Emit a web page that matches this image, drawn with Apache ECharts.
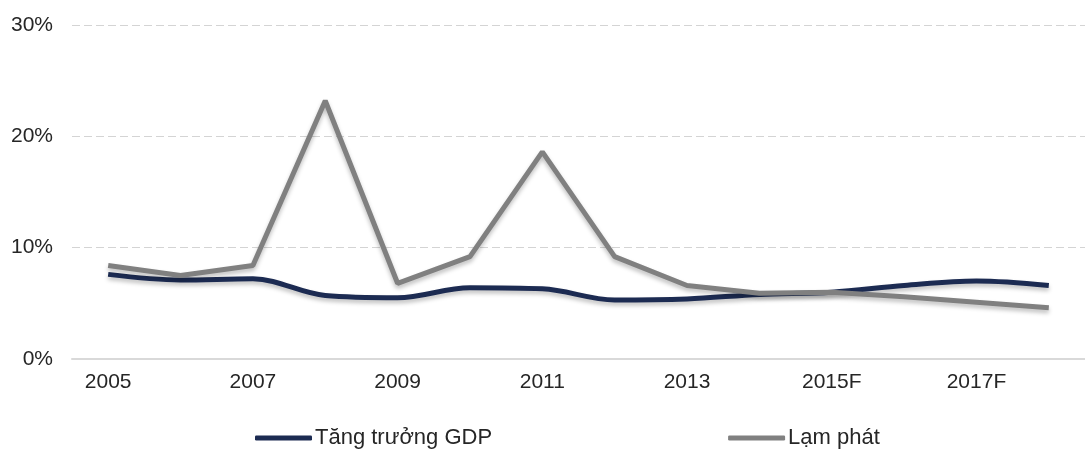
<!DOCTYPE html>
<html>
<head>
<meta charset="utf-8">
<script src="https://cdn.jsdelivr.net/npm/echarts@6/dist/echarts.min.js"></script>
<style>
  html, body { margin: 0; padding: 0; background: #fff; }
  #chart { width: 1085px; height: 450px; }
</style>
</head>
<body>
<div id="chart"></div>
<script>
var years = ['2005', '2006', '2007', '2008', '2009', '2010', '2011', '2012', '2013', '2014', '2015F', '2016F', '2017F', '2018F'];
var gdpGrowth = [7.6, 7.1, 7.2, 5.7, 5.5, 6.4, 6.3, 5.3, 5.4, 5.8, 6.0, 6.6, 7.0, 6.6];
var inflation = [8.4, 7.5, 8.4, 23.2, 6.8, 9.2, 18.6, 9.2, 6.6, 5.9, 6.0, 5.6, 5.1, 4.6];
var yTicks = [0, 10, 20, 30];

var chart = echarts.init(document.getElementById('chart'));

var option = {
    animation: false,
    textStyle: { fontFamily: 'Liberation Sans, Arial, sans-serif' },
    grid: { left: 72, top: 25, bottom: 91, width: 1018 },
    legend: {
        top: 422,
        left: 250,
        itemWidth: 57,
        itemHeight: 5,
        itemGap: 236,
        icon: 'roundRect',
        textStyle: { fontSize: 22, color: '#262626', padding: [0, 0, 0, -2] },
        data: ['Tăng trưởng GDP', 'Lạm phát']
    },
    xAxis: {
        type: 'category',
        data: years,
        boundaryGap: true,
        axisLine: { lineStyle: { color: '#d9d9d9', width: 2 } },
        axisTick: { show: false },
        axisLabel: { interval: 1, fontSize: 21, color: '#262626', margin: 13 }
    },
    yAxis: {
        type: 'value',
        min: yTicks[0],
        max: yTicks[yTicks.length - 1],
        interval: 10,
        axisLine: { show: false },
        axisTick: { show: false },
        axisLabel: { fontSize: 21, color: '#262626', margin: 19, formatter: '{value}%' },
        splitLine: { lineStyle: { color: '#d4d4d4', type: [8, 4], width: 1 } }
    },
    series: [
        {
            name: 'Tăng trưởng GDP',
            type: 'line',
            data: gdpGrowth,
            smooth: 0.35,
            symbol: 'none',
            itemStyle: { color: '#1c2b52' },
            lineStyle: {
                color: '#1c2b52', width: 5,
                shadowColor: 'rgba(0,0,0,0.25)', shadowBlur: 4, shadowOffsetY: 3
            }
        },
        {
            name: 'Lạm phát',
            type: 'line',
            data: inflation,
            symbol: 'none',
            itemStyle: { color: '#808080' },
            lineStyle: {
                color: '#808080', width: 5,
                shadowColor: 'rgba(0,0,0,0.25)', shadowBlur: 4, shadowOffsetY: 3
            }
        }
    ]
};

chart.setOption(option);
</script>
</body>
</html>
